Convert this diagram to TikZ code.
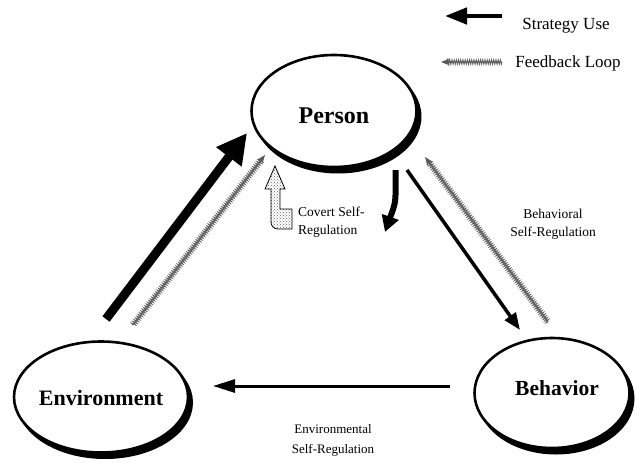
\documentclass[tikz,border=0pt]{standalone}
\usepackage{fontspec}
\setmainfont{Liberation Serif}
\usetikzlibrary{arrows.meta,shapes.geometric,decorations.pathmorphing,patterns,calc}

\tikzset{
  agent/.style={ellipse, draw=black, line width=2.6pt, fill=white, inner sep=0pt},
  agentname/.style={font=\bfseries\fontsize{22}{26}\selectfont},
  agentshade/.style={fill=black},
  strategy/.style={draw=black, line cap=butt},
  feedline/.style={draw=gray!75!black, line width=0.9pt, decorate,
    decoration={zigzag, segment length=2.2pt, amplitude=2.2pt}},
  feedcore/.style={draw=gray!55, line width=1.4pt},
  feedtip/.style={draw=gray!70!black, line width=1.2pt, -{Stealth[length=9pt,width=7pt]}},
  note/.style={font=\fontsize{13.5}{18}\selectfont, align=center, inner sep=0pt},
  key/.style={font=\fontsize{17}{20}\selectfont, inner sep=0pt},
}

\begin{document}
\begin{tikzpicture}[x=1pt, y=-1pt]
  \useasboundingbox (0,0) rectangle (637,463);

  % centres of the three agents
  \coordinate (cper) at (334,111);
  \coordinate (cenv) at (101,397);
  \coordinate (cbeh) at (552,393);

  % heavy rim on the lower right of each ellipse
  \fill[agentshade] ($(cper)+(4,5.5)$) ellipse [x radius=83.5pt, y radius=57pt];
  \fill[agentshade] ($(cenv)+(4,5.5)$) ellipse [x radius=88pt, y radius=56.5pt];
  \fill[agentshade] ($(cbeh)+(4,5.5)$) ellipse [x radius=78.5pt, y radius=56pt];

  % the three agents of the triadic model
  \node[agent, minimum width=165pt, minimum height=112pt,
        label={[agentname, font=\bfseries\fontsize{24}{28}\selectfont, yshift=-5pt]center:Person}] (per) at (cper) {};
  \node[agent, minimum width=174pt, minimum height=111pt,
        label={[agentname, yshift=-1pt]center:Environment}] (env) at (cenv) {};
  \node[agent, minimum width=155pt, minimum height=110pt,
        label={[agentname, font=\bfseries\fontsize{21.5}{26}\selectfont, yshift=5pt, xshift=5pt]center:Behavior}] (beh) at (cbeh) {};

  % legend
  \coordinate (ks1) at (502,16);  \coordinate (ks2) at (445,16);
  \coordinate (kf1) at (502,62);  \coordinate (kf2) at (441,62);
  \draw[strategy, line width=4.5pt, -{Triangle[length=22pt,width=16pt]}] (ks1) -- (ks2);
  \draw[feedcore] (kf1) -- ($(kf2)!6pt!(kf1)$);
  \draw[feedline] (kf1) -- ($(kf2)!6pt!(kf1)$);
  \draw[feedtip] ($(kf2)!10pt!(kf1)$) -- (kf2);
  \node[key] (kstrat) at (566,26) {Strategy Use};
  \node[key] (kfeed) at (568,63) {Feedback Loop};

  % environment -> person
  \coordinate (sE1) at (106,319); \coordinate (sP1) at (247,133);
  \draw[strategy, line width=9pt, -{Triangle[length=30pt,width=30pt]}] (sE1) -- (sP1);
  \coordinate (fE1) at (133,325); \coordinate (fP1) at (265,155);
  \draw[feedcore] (fE1) -- ($(fP1)!6pt!(fE1)$);
  \draw[feedline] (fE1) -- ($(fP1)!6pt!(fE1)$);
  \draw[feedtip] ($(fP1)!10pt!(fE1)$) -- (fP1);

  % person -> behavior
  \coordinate (sP2) at (407,170); \coordinate (sB2) at (520,330);
  \draw[strategy, line width=3.5pt, -{Triangle[length=17pt,width=13pt]}] (sP2) -- (sB2);
  \coordinate (fB2) at (548,322); \coordinate (fP2) at (425,157);
  \draw[feedcore] (fB2) -- ($(fP2)!6pt!(fB2)$);
  \draw[feedline] (fB2) -- ($(fP2)!6pt!(fB2)$);
  \draw[feedtip] ($(fP2)!10pt!(fB2)$) -- (fP2);

  % behavior -> environment
  \coordinate (sB3) at (450,386); \coordinate (sE3) at (213,386);
  \draw[strategy, line width=3pt, -{Triangle[length=22pt,width=13pt]}] (sB3) -- (sE3);

  % covert self-regulation loop under the person
  \draw[line width=0.8pt, pattern=crosshatch dots, pattern color=gray!80!black]
    (292,209) -- (280,209) -- (280,189) -- (285,189) -- (275,166) -- (265,189)
    -- (271,189) -- (271,222) .. controls (271,226) and (274,229) .. (278,229)
    -- (292,229) -- cycle;
  \draw[strategy, line width=6pt, -{Triangle[length=16pt,width=17pt]}]
    (395.5,170) -- (395.5,195) .. controls (395.5,205) and (392,212) .. (385,232);

  % labels
  \node[note, align=left, anchor=west] (lcov) at (298,222) {Covert Self-\\Regulation};
  \node[note] (lbeh) at (553,224) {Behavioral\\Self-Regulation};
  \node[note, font=\fontsize{13}{20}\selectfont] (lenv) at (333,440) {Environmental\\Self-Regulation};
\end{tikzpicture}
\end{document}
